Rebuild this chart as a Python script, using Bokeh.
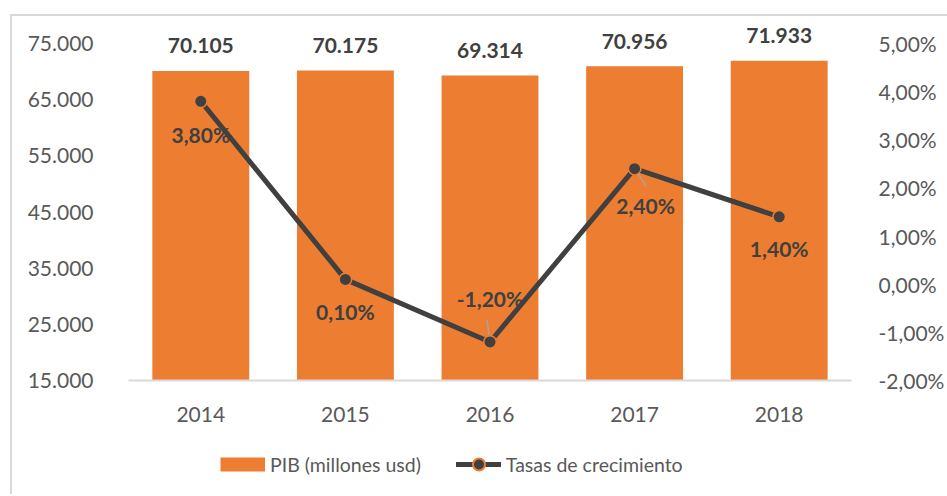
from bokeh.plotting import figure
from bokeh.layouts import column
from bokeh.models import (Range1d, LinearAxis, FixedTicker, ColumnDataSource,
                          Legend, LegendItem)
from bokeh.core.properties import value
from bokeh.embed import file_html
from bokeh.resources import INLINE

# ---- data ----
years = ["2014", "2015", "2016", "2017", "2018"]
pib = [70105, 70175, 69314, 70956, 71933]
pib_labels = ["70.105", "70.175", "69.314", "70.956", "71.933"]
growth = [3.80, 0.10, -1.20, 2.40, 1.40]
growth_labels = ["3,80%", "0,10%", "-1,20%", "2,40%", "1,40%"]
left_ticks = [15000, 25000, 35000, 45000, 55000, 65000, 75000]
left_tick_labels = ["15.000", "25.000", "35.000", "45.000", "55.000", "65.000", "75.000"]
right_ticks = [-2, -1, 0, 1, 2, 3, 4, 5]
right_tick_labels = ["-2,00%", "-1,00%", "0,00%", "1,00%", "2,00%", "3,00%", "4,00%", "5,00%"]
legend_labels = ["PIB (millones usd)", "Tasas de crecimiento"]

# label placement (style, screen px)
pct_dx = [0, 0, 0, 11, 0]
pct_dy = [33, 32, -43, 37, 32]
# leader lines (style, screen px relative to the point: end offsets, y down)
leader_idx = [2, 3]
leader_dx = [-3, 12]
leader_dy = [-22, 18]

ORANGE = "#ED7D31"
DARK = "#404040"
GREY = "#595959"
FRAME = "#D9D9D9"
LEADER = "#A6A6A6"
FONT = "Lato"
FS = "21px"
LEG_FS = "19.5px"

# layout (px)
W = 947
H1, H2 = 440, 54
LEFT, RIGHT = 128, 853      # frame edges
AXIS_TOP, AXIS_BOT = 43, 380  # pixel rows of top and bottom ticks
EXTRA_TOP = 23              # headroom above top tick for the bar labels
AXIS_H = AXIS_BOT - AXIS_TOP

lo, hi = left_ticks[0], left_ticks[-1]
rlo, rhi = right_ticks[0], right_ticks[-1]
y_top = hi + EXTRA_TOP * (hi - lo) / AXIS_H
r_top = rhi + EXTRA_TOP * (rhi - rlo) / AXIS_H
px_per_cat = (RIGHT - LEFT) / len(years)
px_per_pct = AXIS_H / (rhi - rlo)

xs = list(range(len(years)))

g = f"linear-gradient({FRAME},{FRAME})"

p = figure(width=W, height=H1, output_backend="svg", toolbar_location=None,
           x_range=Range1d(-0.5, len(years) - 0.5),
           y_range=Range1d(lo, y_top),
           min_border_left=LEFT, min_border_right=W - RIGHT,
           min_border_top=AXIS_TOP - EXTRA_TOP,
           min_border_bottom=H1 - AXIS_BOT)
p.styles = {"background": f"{g} 10px 14px / 2px 100% no-repeat, {g} 10px 14px / 100% 2px no-repeat"}
p.extra_y_ranges = {"pct": Range1d(rlo, r_top)}
p.outline_line_color = None
p.xgrid.visible = False
p.ygrid.visible = False
p.background_fill_color = "white"
p.border_fill_alpha = 0

src = ColumnDataSource(dict(x=xs, pib=pib, pib_labels=pib_labels, growth=growth,
                            growth_labels=growth_labels, dx=pct_dx, dy=pct_dy))

p.vbar(x="x", top="pib", width=0.67, bottom=0, source=src,
       fill_color=ORANGE, line_color=None)
p.text(x="x", y="pib", text="pib_labels", source=src, text_align="center",
       text_baseline="middle", y_offset=-25, text_font=value(FONT),
       text_font_size=FS, text_font_style="bold", text_color=DARK)

p.line(x="x", y="growth", source=src, y_range_name="pct",
       line_color=DARK, line_width=5, line_join="round")

# leader lines from the points toward their labels
lx0 = [xs[i] for i in leader_idx]
ly0 = [growth[i] for i in leader_idx]
lx1 = [xs[i] + dx / px_per_cat for i, dx in zip(leader_idx, leader_dx)]
ly1 = [growth[i] - dy / px_per_pct for i, dy in zip(leader_idx, leader_dy)]
p.segment(x0=lx0, y0=ly0, x1=lx1, y1=ly1, y_range_name="pct",
          line_color=LEADER, line_width=1.3)

p.scatter(x="x", y="growth", source=src, y_range_name="pct", size=12.5,
          fill_color=DARK, line_color=ORANGE, line_width=1.5)
p.text(x="x", y="growth", text="growth_labels", source=src, y_range_name="pct",
       x_offset="dx", y_offset="dy", text_align="center", text_baseline="middle",
       text_font=value(FONT), text_font_size=FS, text_font_style="bold",
       text_color=DARK)

# axes
p.xaxis.ticker = FixedTicker(ticks=xs)
p.xaxis.major_label_overrides = {i: y for i, y in zip(xs, years)}
p.xaxis.axis_line_color = FRAME
p.xaxis.axis_line_width = 2
p.xaxis.major_tick_line_color = None
p.xaxis.minor_tick_line_color = None
p.xaxis.major_label_standoff = 20
p.xaxis.major_label_text_font = FONT
p.xaxis.major_label_text_font_size = FS
p.xaxis.major_label_text_color = GREY

p.yaxis.ticker = FixedTicker(ticks=left_ticks)
p.yaxis.major_label_overrides = {t: l for t, l in zip(left_ticks, left_tick_labels)}
p.yaxis.axis_line_color = None
p.yaxis.major_tick_line_color = None
p.yaxis.minor_tick_line_color = None
p.yaxis.major_label_standoff = 29
p.yaxis.major_label_text_font = FONT
p.yaxis.major_label_text_font_size = FS
p.yaxis.major_label_text_color = GREY

ra = LinearAxis(y_range_name="pct", ticker=FixedTicker(ticks=right_ticks))
ra.major_label_overrides = {t: l for t, l in zip(right_ticks, right_tick_labels)}
ra.axis_line_color = None
ra.major_tick_line_color = None
ra.minor_tick_line_color = None
ra.major_label_standoff = 21
ra.major_label_text_font = FONT
ra.major_label_text_font_size = FS
ra.major_label_text_color = GREY
p.add_layout(ra, "right")

# ---- legend strip (second figure, same frame border on the left) ----
lf = figure(width=W, height=H2, output_backend="svg", toolbar_location=None,
            x_range=Range1d(0, 1), y_range=Range1d(0, 1),
            x_axis_location=None, y_axis_location=None,
            min_border=0)
lf.styles = {"background": f"{g} 10px 0px / 2px 100% no-repeat"}
lf.grid.visible = False
lf.outline_line_color = None
lf.background_fill_alpha = 0
lf.border_fill_alpha = 0
nan = [float("nan")]
lb = lf.line(x=nan, y=nan, line_color=ORANGE, line_width=14, line_cap="butt")
ll = lf.line(x=nan, y=nan, line_color=DARK, line_width=5, line_cap="round")
lp = lf.scatter(x=nan, y=nan, size=12, fill_color=DARK, line_color=ORANGE, line_width=2)

legend = Legend(items=[LegendItem(label=legend_labels[0], renderers=[lb]),
                       LegendItem(label=legend_labels[1], renderers=[ll, lp])],
                orientation="horizontal", location=(92, 15),
                glyph_width=45, glyph_height=30, label_standoff=5, spacing=35,
                padding=0, margin=0, border_line_color=None,
                background_fill_alpha=0, label_text_font=FONT,
                label_text_font_size=LEG_FS, label_text_color=GREY)
lf.add_layout(legend, "center")

layout = column(p, lf, spacing=0)
open("out.html", "w").write(file_html(layout, INLINE))
